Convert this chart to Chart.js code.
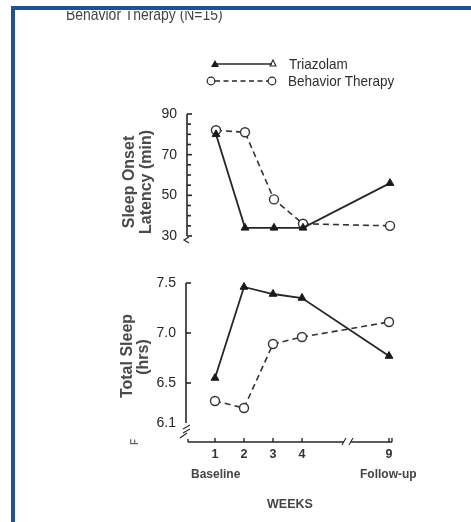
<!DOCTYPE html>
<html>
<head>
<meta charset="utf-8">
<script src="https://cdn.jsdelivr.net/npm/chart.js@4/dist/chart.umd.min.js"></script>
<style>
  html, body { margin: 0; padding: 0; background: #fff; }
  #wrap { position: relative; width: 471px; height: 522px; overflow: hidden; background: #fff; font-family: "Liberation Sans", Arial, sans-serif; }
  canvas { position: absolute; left: 0; top: 0; }
  .bord-top { position: absolute; left: 11px; top: 6px; width: 460px; height: 4px; background: #22518f; }
  .bord-left { position: absolute; left: 11px; top: 6px; width: 4px; height: 516px; background: #22518f; }
  .txt { position: absolute; color: #333; white-space: nowrap; }
  .rot { transform-origin: center center; transform: translate(-50%, -50%) rotate(-90deg); }
  .ytitle { font-size: 16px; font-weight: bold; color: #4a4a4a; }
  .leg { font-size: 15px; transform: scaleX(0.9); transform-origin: left top; color: #2e2e2e; }
</style>
</head>
<body>
<div id="wrap">
  <canvas id="top" width="471" height="522"></canvas>
  <canvas id="bot" width="471" height="522"></canvas>
  <div style="position:absolute;left:60px;top:11px;width:200px;height:16px;overflow:hidden;">
    <div class="txt" style="left:6px;top:-6px;font-size:17px;color:#444;transform:scaleX(0.82);transform-origin:left top;">Behavior Therapy (N=15)</div>
  </div>
  <div class="txt leg" style="left:289px;top:55px;">Triazolam</div>
  <div class="txt leg" style="left:288px;top:72px;">Behavior Therapy</div>
  <div class="txt rot ytitle" style="left:129px;top:182px;">Sleep Onset</div>
  <div class="txt rot ytitle" style="left:146px;top:182px;">Latency (min)</div>
  <div class="txt rot ytitle" style="left:127px;top:356px;">Total Sleep</div>
  <div class="txt rot ytitle" style="left:143px;top:357px;">(hrs)</div>
  <div class="txt rot" style="left:134px;top:442px;font-size:10px;font-weight:bold;color:#666;">F</div>
  <div class="txt" style="left:191px;top:467px;font-size:12px;font-weight:bold;color:#444;">Baseline</div>
  <div class="txt" style="left:360px;top:467px;font-size:12px;font-weight:bold;color:#444;">Follow-up</div>
  <div class="txt" style="left:267px;top:497px;font-size:12.5px;font-weight:bold;color:#444;">WEEKS</div>
  <div class="bord-top"></div>
  <div class="bord-left"></div>
</div>
<script>
// ---- data ----
const weekPos = [1, 2, 3, 4, 7];            // axis positions (week 9 sits after an axis break)
const weekLabels = ['1', '2', '3', '4', '9'];
const onsetTriazolam = [80, 34, 34, 34, 56];
const onsetBehavior  = [82, 81, 48, 36, 35];
const sleepTriazolam = [6.55, 7.46, 7.39, 7.35, 6.77];
const sleepBehavior  = [6.32, 6.25, 6.89, 6.96, 7.11];
const onsetTicks = [30, 50, 70, 90];
const sleepTicks = [6.1, 6.5, 7.0, 7.5];

const INK = '#262626';
const toPts = (ys) => ys.map((y, i) => ({ x: weekPos[i], y }));

function triDataset(label, ys) {
  return { label, data: toPts(ys), borderColor: INK, borderWidth: 1.8, tension: 0,
    pointStyle: 'triangle', pointRadius: 4.5, pointBackgroundColor: '#1a1a1a',
    pointBorderColor: '#1a1a1a', pointBorderWidth: 1, clip: false };
}
function circDataset(label, ys) {
  return { label, data: toPts(ys), borderColor: '#333', borderWidth: 1.6, borderDash: [6, 4], tension: 0,
    pointStyle: 'circle', pointRadius: 4.5, pointBackgroundColor: '#fff',
    pointBorderColor: '#333', pointBorderWidth: 1.4, clip: false };
}

function line(ctx, x1, y1, x2, y2) { ctx.beginPath(); ctx.moveTo(x1, y1); ctx.lineTo(x2, y2); ctx.stroke(); }

const topAxes = {
  id: 'topAxes',
  beforeDatasetsDraw(chart) {
    const ctx = chart.ctx, y = chart.scales.y, a = chart.chartArea;
    ctx.save();
    ctx.strokeStyle = INK; ctx.lineWidth = 1.6;
    const x0 = a.left;
    line(ctx, x0, y.getPixelForValue(90), x0, y.getPixelForValue(30));
    for (let v = 30; v <= 90; v += 5) {
      const py = y.getPixelForValue(v);
      line(ctx, x0, py, x0 + (onsetTicks.includes(v) ? 5 : 4), py);
    }
    const yb = y.getPixelForValue(30);
    ctx.lineWidth = 1.2;
    ctx.beginPath(); ctx.moveTo(x0 + 2, yb + 1); ctx.lineTo(x0 - 3, yb + 4); ctx.lineTo(x0 + 2, yb + 7); ctx.stroke();
    ctx.restore();
  },
  afterDraw(chart) {
    const ctx = chart.ctx;
    ctx.save();
    ctx.strokeStyle = INK; ctx.fillStyle = '#1a1a1a'; ctx.lineWidth = 1.6;
    line(ctx, 215, 64, 272, 64);
    ctx.beginPath(); ctx.moveTo(215, 60); ctx.lineTo(219, 67); ctx.lineTo(211, 67); ctx.closePath(); ctx.fill();
    ctx.lineWidth = 1.1;
    ctx.beginPath(); ctx.moveTo(273, 60); ctx.lineTo(276, 66); ctx.lineTo(270, 66); ctx.closePath(); ctx.stroke();
    ctx.lineWidth = 1.4; ctx.setLineDash([5, 3.5]);
    line(ctx, 215, 81, 268, 81);
    ctx.setLineDash([]);
    ctx.fillStyle = '#fff'; ctx.lineWidth = 1.2;
    ctx.beginPath(); ctx.arc(211, 81, 3.8, 0, Math.PI * 2); ctx.fill(); ctx.stroke();
    ctx.beginPath(); ctx.arc(272, 81, 3.8, 0, Math.PI * 2); ctx.fill(); ctx.stroke();
    ctx.restore();
  }
};

const botAxes = {
  id: 'botAxes',
  beforeDatasetsDraw(chart) {
    const ctx = chart.ctx, y = chart.scales.y, x = chart.scales.x, a = chart.chartArea;
    ctx.save();
    ctx.strokeStyle = INK; ctx.lineWidth = 1.6;
    const x0 = a.left;
    line(ctx, x0, y.getPixelForValue(7.5), x0, y.getPixelForValue(6.1));
    sleepTicks.forEach(v => { if (v > 6.1) { const py = y.getPixelForValue(v); line(ctx, x0, py, x0 + 5, py); } });
    const yb = y.getPixelForValue(6.1);
    ctx.lineWidth = 1.1;
    line(ctx, x0 - 3, yb + 6, x0 + 4, yb + 2);
    line(ctx, x0 - 3, yb + 10, x0 + 4, yb + 6);
    const ax = a.bottom + 19;
    ctx.lineWidth = 1.5;
    const xBreak = x.getPixelForValue(5.55);
    line(ctx, x0 + 2, ax, xBreak - 3, ax);
    line(ctx, xBreak + 4, ax, x.getPixelForValue(7) + 3, ax);
    ctx.lineWidth = 1.1;
    line(ctx, xBreak - 5, ax + 3, xBreak - 1, ax - 4);
    line(ctx, xBreak + 2, ax + 3, xBreak + 6, ax - 4);
    ctx.lineWidth = 1.4;
    weekPos.forEach(v => { const px = x.getPixelForValue(v); line(ctx, px, ax, px, ax - 4); });
    line(ctx, x0 + 2, ax, x0 + 2, ax - 3);
    line(ctx, x.getPixelForValue(7) + 3, ax, x.getPixelForValue(7) + 3, ax - 4);
    ctx.lineWidth = 1.1;
    line(ctx, x0 - 6, ax - 4, x0 + 1, ax - 9);
    ctx.restore();
  }
};

const tickFont = { family: '"Liberation Sans", Arial, sans-serif', size: 14 };

new Chart(document.getElementById('top'), {
  type: 'line',
  data: { datasets: [triDataset('Triazolam', onsetTriazolam), circDataset('Behavior Therapy', onsetBehavior)] },
  options: {
    responsive: false, animation: false, devicePixelRatio: 1,
    layout: { autoPadding: false, padding: { left: 147, right: 81, top: 114, bottom: 286 } },
    plugins: { legend: { display: false }, tooltip: { enabled: false } },
    scales: {
      x: { type: 'linear', min: 0, max: 7, display: false },
      y: { type: 'linear', min: 30, max: 90,
        afterFit: s => { s.width = 40; },
        afterBuildTicks: s => { s.ticks = onsetTicks.map(v => ({ value: v })); },
        grid: { display: false, drawTicks: false }, border: { display: false },
        ticks: { padding: 10, color: '#262626', font: tickFont, callback: v => String(v) } }
    }
  },
  plugins: [topAxes]
});

new Chart(document.getElementById('bot'), {
  type: 'line',
  data: { datasets: [triDataset('Triazolam', sleepTriazolam), circDataset('Behavior Therapy', sleepBehavior)] },
  options: {
    responsive: false, animation: false, devicePixelRatio: 1,
    layout: { autoPadding: false, padding: { left: 146, right: 82, top: 283, bottom: 59 } },
    plugins: { legend: { display: false }, tooltip: { enabled: false } },
    scales: {
      x: { type: 'linear', min: 0, max: 7,
        afterFit: s => { s.height = 40; },
        afterBuildTicks: s => { s.ticks = weekPos.map(v => ({ value: v })); },
        grid: { display: false, drawTicks: false }, border: { display: false },
        ticks: { padding: 24, color: '#333', autoSkip: false, maxRotation: 0,
          font: { family: '"Liberation Sans", Arial, sans-serif', size: 12.5, weight: 'bold' },
          callback: v => weekLabels[weekPos.indexOf(v)] } },
      y: { type: 'linear', min: 6.1, max: 7.5,
        afterFit: s => { s.width = 40; },
        afterBuildTicks: s => { s.ticks = sleepTicks.map(v => ({ value: v })); },
        grid: { display: false, drawTicks: false }, border: { display: false },
        ticks: { padding: 10, color: '#262626', font: tickFont, callback: v => Number(v).toFixed(1) } }
    }
  },
  plugins: [botAxes]
});
</script>
</body>
</html>
